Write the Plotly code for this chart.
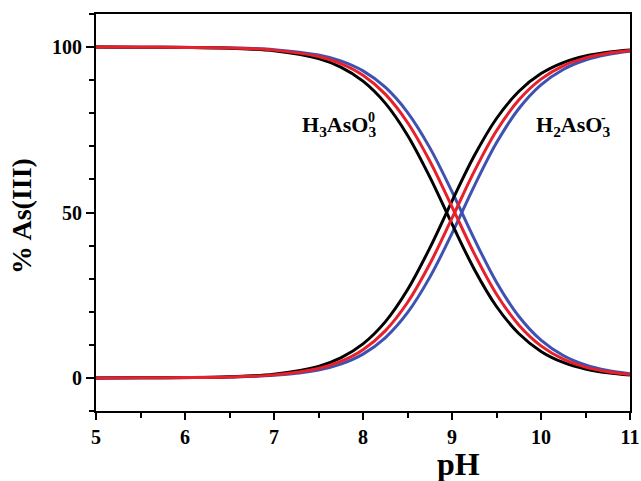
import plotly.graph_objects as go

ph = [5, 5.5, 6, 6.5, 7, 7.5, 7.75, 8, 8.25, 8.5, 8.75, 9, 9.25, 9.5, 9.75, 10, 10.25, 10.5, 10.75, 11]

h3aso3_black = [99.99, 99.96, 99.89, 99.64, 98.87, 96.50, 93.93, 89.70, 83.05, 73.36, 60.76, 46.55, 32.87, 21.59, 13.41, 8.01, 4.67, 2.68, 1.53, 0.86]
h2aso3_black = [0.01, 0.04, 0.11, 0.36, 1.13, 3.50, 6.07, 10.30, 16.95, 26.64, 39.24, 53.45, 67.13, 78.41, 86.59, 91.99, 95.33, 97.32, 98.47, 99.14]
h3aso3_red = [99.99, 99.97, 99.91, 99.71, 99.08, 97.13, 95.01, 91.47, 85.77, 77.21, 65.58, 51.72, 37.59, 25.31, 16.01, 9.68, 5.68, 3.28, 1.87, 1.06]
h2aso3_red = [0.01, 0.03, 0.09, 0.29, 0.92, 2.87, 4.99, 8.53, 14.23, 22.79, 34.42, 48.28, 62.41, 74.69, 83.99, 90.32, 94.32, 96.72, 98.13, 98.94]
h3aso3_blue = [99.99, 99.98, 99.92, 99.76, 99.23, 97.60, 95.82, 92.80, 87.87, 80.29, 69.61, 56.30, 42.02, 28.94, 18.64, 11.41, 6.76, 3.91, 2.24, 1.27]
h2aso3_blue = [0.01, 0.02, 0.08, 0.24, 0.77, 2.40, 4.18, 7.20, 12.13, 19.71, 30.39, 43.70, 57.98, 71.06, 81.36, 88.59, 93.24, 96.09, 97.76, 98.73]

x_ticks = [5, 6, 7, 8, 9, 10, 11]
y_ticks = [0, 50, 100]

BLUE = "#3D52B2"
RED = "#E8202A"
BLACK = "#000000"
FONT = "Liberation Serif"

W, H = 641, 481
L, R, T, B = 96, 11, 14, 70

fig = go.Figure()
for ys, col in [(h3aso3_blue, BLUE), (h2aso3_blue, BLUE),
                (h3aso3_black, BLACK), (h2aso3_black, BLACK),
                (h3aso3_red, RED), (h2aso3_red, RED)]:
    fig.add_trace(go.Scatter(x=ph, y=ys, mode="lines",
                             line=dict(color=col, width=3, shape="spline", smoothing=1.0),
                             showlegend=False, hoverinfo="skip"))

lab_font = dict(family=FONT, size=22, color="black", weight="bold")
small_font = dict(family=FONT, size=14, color="black", weight="bold")

# species labels (data coordinates)
fig.add_annotation(x=7.29, y=76, xref="x", yref="y", xanchor="left", yanchor="middle",
                   text="H<sub>3</sub>AsO<sub>3</sub>", showarrow=False, font=lab_font)
fig.add_annotation(x=8.09, y=78.8, xref="x", yref="y", xanchor="center", yanchor="middle",
                   text="0", showarrow=False, font=small_font)
fig.add_annotation(x=9.92, y=76, xref="x", yref="y", xanchor="left", yanchor="middle",
                   text="H<sub>2</sub>AsO<sub>3</sub>", showarrow=False, font=lab_font)
fig.add_annotation(x=10.7, y=78.8, xref="x", yref="y", xanchor="center", yanchor="middle",
                   text="-", showarrow=False, font=small_font)

# axis titles
fig.add_annotation(x=(458 - L) / (W - L - R), y=-(464 - (H - B)) / (H - T - B),
                   xref="paper", yref="paper", xanchor="center", yanchor="middle",
                   text="pH", showarrow=False,
                   font=dict(family=FONT, size=32, color="black", weight="bold"))
fig.add_annotation(x=-(L - 22) / (W - L - R), y=((H - B) - 216) / (H - T - B),
                   xref="paper", yref="paper", xanchor="center", yanchor="middle",
                   text="% As(III)", textangle=-90, showarrow=False,
                   font=dict(family=FONT, size=28, color="black", weight="bold"))

fig.update_layout(
    width=W, height=H,
    margin=dict(l=L, r=R, t=T, b=B, autoexpand=False),
    paper_bgcolor="white", plot_bgcolor="white",
    font=dict(family=FONT, color="black"),
)
fig.update_xaxes(
    range=[5, 11], tickvals=x_ticks, ticktext=[str(v) for v in x_ticks],
    ticks="outside", ticklen=7, tickwidth=2, tickcolor="black",
    minor=dict(dtick=0.5, tick0=5, ticks="outside", ticklen=5, tickwidth=2, tickcolor="black"),
    showline=True, linecolor="black", linewidth=2, mirror=True,
    showgrid=False, zeroline=False, automargin=False,
    tickfont=dict(family=FONT, size=20, color="black", weight="bold"),
)
fig.update_yaxes(
    range=[-10, 110], tickvals=y_ticks, ticktext=[str(v) for v in y_ticks],
    ticks="outside", ticklen=8, tickwidth=2, tickcolor="black",
    minor=dict(dtick=10, tick0=0, ticks="outside", ticklen=5, tickwidth=2, tickcolor="black"),
    showline=True, linecolor="black", linewidth=2, mirror=True,
    showgrid=False, zeroline=False, automargin=False,
    tickfont=dict(family=FONT, size=20, color="black", weight="bold"),
)

fig.write_html("out.html", config={"displayModeBar": False},
               post_script="document.body.style.margin='0';document.body.style.overflow='hidden';")
